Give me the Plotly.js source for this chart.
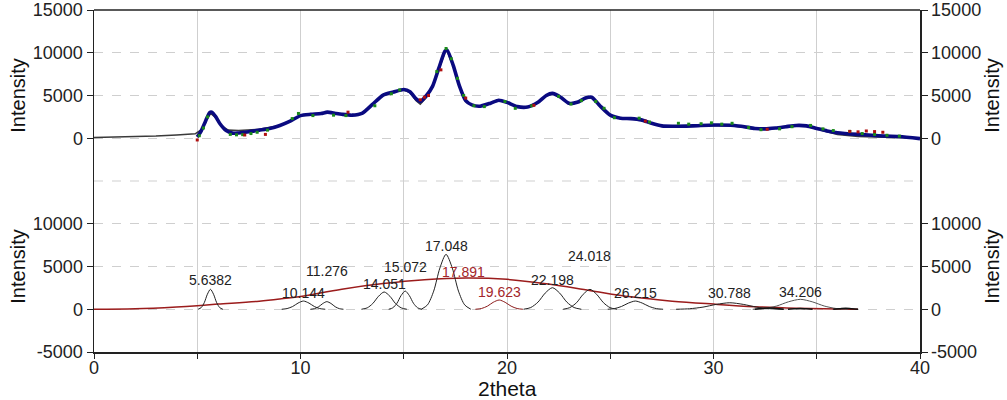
<!DOCTYPE html>
<html>
<head>
<meta charset="utf-8">
<script src="https://cdn.plot.ly/plotly-3.0.1.min.js"></script>
<style>
  html, body { margin: 0; padding: 0; background: #fff; }
  #chart { width: 1007px; height: 400px; }
</style>
</head>
<body>
<div id="chart"></div>
<script>
// ---- Measured pattern (upper panel) ----
const measX = [5.0, 5.2, 5.4, 5.6, 5.7, 5.9, 6.1, 6.4, 6.7, 7.0, 7.5, 8.0, 8.5, 9.0, 9.5, 10.0, 10.5, 11.0, 11.3, 11.7, 12.0, 12.5, 13.0, 13.5, 14.0, 14.5, 15.0, 15.3, 15.6, 15.8, 16.1, 16.4, 16.7, 17.0, 17.1, 17.4, 17.7, 18.0, 18.3, 18.7, 19.2, 19.6, 20.0, 20.5, 21.0, 21.5, 21.9, 22.2, 22.6, 23.0, 23.4, 23.8, 24.1, 24.5, 25.0, 25.5, 26.0, 26.5, 27.0, 27.5, 28.0, 29.0, 30.0, 31.0, 31.5, 32.0, 32.5, 33.0, 33.5, 34.0, 34.5, 35.0, 35.5, 36.0, 37.0, 38.0, 39.0, 40.0];
const measY = [150, 900, 2000, 3000, 3050, 2500, 1700, 900, 600, 620, 750, 950, 1150, 1500, 2000, 2650, 2800, 2900, 3050, 2900, 2800, 2700, 2950, 4000, 5050, 5400, 5700, 5450, 4600, 4300, 5000, 6100, 8200, 10200, 10300, 8500, 6100, 4400, 3900, 3750, 4100, 4450, 4200, 3700, 3650, 4200, 5000, 5250, 4800, 4100, 4200, 4700, 4800, 3800, 2700, 2350, 2300, 2150, 1750, 1450, 1400, 1450, 1550, 1500, 1350, 1150, 1100, 1200, 1350, 1500, 1450, 1150, 850, 650, 450, 300, 200, -50];

// second scan (green points)
const scan2X = [5.1, 5.3, 5.5, 6.6, 6.9, 7.2, 7.6, 7.9, 8.4, 9.6, 9.9, 10.6, 11.6, 12.2, 13.6, 14.4, 14.8, 16.6, 17.05, 17.3, 17.6, 17.9, 18.4, 18.9, 19.9, 20.4, 21.2, 22.5, 23.1, 23.6, 24.3, 24.7, 25.2, 26.4, 26.9, 28.3, 28.8, 29.4, 29.9, 30.4, 30.9, 31.7, 32.3, 33.2, 33.8, 34.7, 35.3, 35.8, 36.6, 37.2, 37.8, 38.4, 39.0];
const scan2Y = [300, 1200, 2500, 450, 400, 420, 550, 700, 950, 2300, 2900, 2650, 2700, 2650, 3800, 5200, 5650, 7800, 10500, 9300, 7000, 5000, 3800, 3700, 4300, 3500, 3800, 4900, 4000, 4400, 4300, 3500, 2400, 2350, 1900, 1750, 1650, 1700, 1800, 1650, 1750, 1250, 1000, 1100, 1350, 1500, 1100, 900, 800, 550, 450, 350, 250];

// third scan (red points)
const scan3X = [5.0, 7.3, 8.3, 12.3, 15.8, 16.0, 16.2, 16.8, 18.0, 21.3, 26.7, 32.6, 36.6, 37.0, 37.4, 37.8, 38.2];
const scan3Y = [-200, 380, 450, 3050, 4500, 4800, 5000, 8000, 4700, 3850, 2000, 1050, 800, 750, 850, 780, 700];

// fitted envelope (background + all components)
const fitX = [0, 1, 2, 3, 4, 4.9, 5.2, 5.4, 5.65, 5.9, 6.2, 6.5, 7.0, 8.0, 9.0, 9.5, 10.0, 10.5, 11.0, 11.3, 11.7, 12.0, 12.5, 13.0, 13.5, 14.0, 14.5, 15.0, 15.3, 15.6, 15.8, 16.1, 16.4, 16.7, 17.0, 17.1, 17.4, 17.7, 18.0, 18.3, 18.7, 19.2, 19.6, 20.0, 20.5, 21.0, 21.5, 21.9, 22.2, 22.6, 23.0, 23.4, 23.8, 24.1, 24.5, 25.0, 25.5, 26.0, 26.5, 27.0, 27.5, 28.0, 29.0, 30.0, 31.0, 31.5, 32.0, 32.5, 33.0, 33.5, 34.0, 34.5, 35.0, 35.5, 36.0, 37.0, 38.0, 39.0, 40.0];
const fitY = [80, 120, 180, 260, 380, 520, 1000, 2000, 2900, 2400, 1400, 950, 900, 1050, 1500, 2000, 2650, 2800, 2900, 3000, 2900, 2800, 2700, 2950, 3950, 5000, 5400, 5650, 5350, 4400, 4000, 4800, 6000, 8100, 10100, 10200, 8400, 6000, 4300, 3850, 3700, 4100, 4400, 4150, 3700, 3650, 4200, 4950, 5200, 4750, 4050, 4200, 4650, 4750, 3750, 2650, 2300, 2250, 2100, 1700, 1400, 1350, 1450, 1500, 1450, 1300, 1100, 1050, 1150, 1300, 1450, 1400, 1100, 800, 450, 200, 150, 100, 0];

// ---- Decomposition (lower panel) ----
const bgX = [0, 2, 4, 5, 6, 8, 9, 10, 12, 14, 16, 18, 20, 22, 24, 26, 28, 30, 32, 34, 36, 37];
const bgY = [0, 60, 270, 420, 600, 950, 1200, 1500, 2350, 3000, 3450, 3650, 3500, 2950, 2200, 1450, 950, 600, 300, 120, 20, 0];

// peak positions (2theta) and their component profiles
const peakCenters = ['5.6382', '10.144', '11.276', '14.051', '15.072', '17.048', '19.623', '22.198', '24.018', '26.215', '30.788', '34.206'];
const compX = [
  [5.04, 5.19, 5.34, 5.49, 5.6382, 5.79, 5.94, 6.09, 6.24],
  [9.09, 9.35, 9.62, 9.88, 10.144, 10.41, 10.67, 10.93, 11.20],
  [10.48, 10.68, 10.88, 11.08, 11.276, 11.48, 11.68, 11.88, 12.08],
  [12.95, 13.23, 13.50, 13.78, 14.051, 14.33, 14.60, 14.88, 15.15],
  [14.27, 14.47, 14.67, 14.87, 15.072, 15.27, 15.47, 15.67, 15.87],
  [15.85, 16.15, 16.45, 16.75, 17.048, 17.35, 17.65, 17.95, 18.25],
  [18.47, 18.76, 19.05, 19.33, 19.623, 19.91, 20.20, 20.49, 20.77],
  [20.80, 21.15, 21.50, 21.85, 22.198, 22.55, 22.90, 23.25, 23.60],
  [22.72, 23.04, 23.37, 23.69, 24.018, 24.34, 24.67, 24.99, 25.32],
  [24.87, 25.20, 25.54, 25.88, 26.215, 26.55, 26.89, 27.23, 27.56],
  [28.19, 28.84, 29.49, 30.14, 30.788, 31.44, 32.09, 32.74, 33.39],
  [31.90, 32.48, 33.06, 33.63, 34.206, 34.78, 35.36, 35.93, 36.51]
];
const compY = [
  [0, 190, 770, 1750, 2330, 1750, 770, 190, 0],
  [0, 80, 320, 720, 960, 720, 320, 80, 0],
  [0, 70, 295, 670, 890, 670, 295, 70, 0],
  [0, 160, 670, 1520, 2020, 1520, 670, 160, 0],
  [0, 170, 700, 1600, 2130, 1600, 700, 170, 0],
  [0, 510, 2120, 4820, 6420, 4820, 2120, 510, 0],
  [0, 85, 360, 810, 1080, 810, 360, 85, 0],
  [0, 200, 830, 1890, 2520, 1890, 830, 200, 0],
  [0, 190, 770, 1750, 2330, 1750, 770, 190, 0],
  [0, 75, 320, 720, 960, 720, 320, 75, 0],
  [0, 60, 250, 570, 760, 570, 250, 60, 0],
  [0, 90, 380, 870, 1160, 870, 380, 90, 0]
];
const compColor = ['#222', '#222', '#222', '#222', '#222', '#222', '#8b1a1a', '#222', '#222', '#222', '#222', '#555'];

// minor components near the baseline
const smallX = [[32.0, 32.35, 32.7, 33.05, 33.4], [33.6, 33.9, 34.2, 34.5, 34.8], [35.8, 36.1, 36.4, 36.7, 37.0]];
const smallY = [[0, 80, 150, 80, 0], [0, 50, 100, 50, 0], [0, 60, 120, 60, 0]];

// amorphous background position label
const bgLabel = '17.891';

// label heights (lower-panel units)
const labelY = [3420, 1870, 4470, 2950, 4980, 7430, 2050, 3420, 6230, 1870, 1870, 2050];
const bgLabelY = 4400;

// axis tick labels
const topTicks = [0, 5000, 10000, 15000];
const topTickText = ['0', '5000', '10000', '15000'];
const lowTicks = [-5000, 0, 5000, 10000];
const lowTickText = ['-5000', '0', '5000', '10000'];

const FONT = 'Arial, "Liberation Sans", sans-serif';
const GRID = '#cfcfcf';
const AX = '#222';

const traces = [];

// upper panel
traces.push({ x: fitX, y: fitY, xaxis: 'x', yaxis: 'y', mode: 'lines',
  line: { color: '#3a3a3a', width: 1.6 }, hoverinfo: 'skip' });
traces.push({ x: measX, y: measY, xaxis: 'x', yaxis: 'y', mode: 'lines',
  line: { color: '#0a0a80', width: 3.6, shape: 'spline', smoothing: 0.6 }, hoverinfo: 'skip' });
traces.push({ x: scan2X, y: scan2Y, xaxis: 'x', yaxis: 'y', mode: 'markers',
  marker: { color: '#1a8a1a', size: 3, symbol: 'square' }, hoverinfo: 'skip' });
traces.push({ x: scan3X, y: scan3Y, xaxis: 'x', yaxis: 'y', mode: 'markers',
  marker: { color: '#b01010', size: 3, symbol: 'square' }, hoverinfo: 'skip' });

// lower panel
traces.push({ x: bgX, y: bgY, xaxis: 'x', yaxis: 'y2', mode: 'lines',
  line: { color: '#9b1c1c', width: 1.5, shape: 'spline' }, hoverinfo: 'skip' });
compX.forEach((cx, i) => {
  traces.push({ x: cx, y: compY[i], xaxis: 'x', yaxis: 'y2', mode: 'lines',
    line: { color: compColor[i], width: 1, shape: 'spline', smoothing: 0.8 }, hoverinfo: 'skip' });
});
smallX.forEach((sx, i) => {
  traces.push({ x: sx, y: smallY[i], xaxis: 'x', yaxis: 'y2', mode: 'lines',
    line: { color: '#111', width: 1.5, shape: 'spline' }, hoverinfo: 'skip' });
});

// carriers for the right-hand axes
traces.push({ x: [null], y: [null], xaxis: 'x', yaxis: 'y3', mode: 'lines', hoverinfo: 'skip' });
traces.push({ x: [null], y: [null], xaxis: 'x', yaxis: 'y4', mode: 'lines', hoverinfo: 'skip' });

const annotations = peakCenters.map((c, i) => ({
  x: parseFloat(c), y: labelY[i], xref: 'x', yref: 'y2', text: c, showarrow: false,
  font: { family: FONT, size: 14, color: compColor[i] === '#8b1a1a' ? '#a3262a' : '#222' },
  xanchor: 'center', yanchor: 'middle'
}));
annotations.push({
  x: parseFloat(bgLabel), y: bgLabelY, xref: 'x', yref: 'y2', text: bgLabel, showarrow: false,
  font: { family: FONT, size: 14, color: '#a3262a' }, xanchor: 'center', yanchor: 'middle'
});
// x-axis title, placed below the tick labels
annotations.push({
  x: 0.5, y: -0.108, xref: 'paper', yref: 'paper', text: '2theta', showarrow: false,
  font: { family: FONT, size: 21, color: '#111' }, xanchor: 'center', yanchor: 'middle'
});

const yBase = {
  range: [-5000, 15000], showline: true, linecolor: AX, linewidth: 1.5,
  ticks: 'outside', ticklen: 6, tickcolor: AX, tickwidth: 1, tickmode: 'array',
  showgrid: true, gridcolor: GRID, griddash: 'dash', gridwidth: 1, zeroline: false,
  tickfont: { family: FONT, size: 18, color: '#222' },
  title: { text: 'Intensity', font: { family: FONT, size: 20, color: '#111' }, standoff: 2 },
  fixedrange: true
};

const layout = {
  width: 1007, height: 400,
  margin: { l: 94, r: 87, t: 10, b: 48 },
  paper_bgcolor: '#fff', plot_bgcolor: '#fff',
  showlegend: false,
  xaxis: {
    range: [0, 40], anchor: 'y2', tickmode: 'linear', tick0: 0, dtick: 10,
    ticks: 'outside', ticklen: 5, tickcolor: AX, showline: true, linecolor: AX, linewidth: 1.5,
    ticklabelstandoff: -6,
    showgrid: true, gridcolor: GRID, gridwidth: 1, zeroline: false,
    minor: { tick0: 0, dtick: 5, ticks: 'outside', ticklen: 5, tickcolor: AX, showgrid: true, gridcolor: GRID, gridwidth: 1 },
    tickfont: { family: FONT, size: 18, color: '#222' },
    fixedrange: true
  },
  yaxis: Object.assign({}, yBase, { domain: [0.5, 1], anchor: 'x', tickvals: topTicks, ticktext: topTickText }),
  yaxis2: Object.assign({}, yBase, { domain: [0, 0.5], anchor: 'x', tickvals: lowTicks, ticktext: lowTickText }),
  yaxis3: Object.assign({}, yBase, { overlaying: 'y', side: 'right', anchor: 'x', showgrid: false, tickvals: topTicks, ticktext: topTickText }),
  yaxis4: Object.assign({}, yBase, { overlaying: 'y2', side: 'right', anchor: 'x', showgrid: false, tickvals: lowTicks, ticktext: lowTickText }),
  shapes: [
    // frame top edge
    { type: 'line', xref: 'paper', yref: 'paper', x0: 0, x1: 1, y0: 1, y1: 1, line: { color: AX, width: 1.5 } },
    // panel separator
    { type: 'line', xref: 'paper', yref: 'paper', x0: 0, x1: 1, y0: 0.5, y1: 0.5, line: { color: GRID, width: 1, dash: 'dash' } }
  ],
  annotations: annotations
};

Plotly.newPlot('chart', traces, layout, { staticPlot: true, displayModeBar: false });
</script>
</body>
</html>
